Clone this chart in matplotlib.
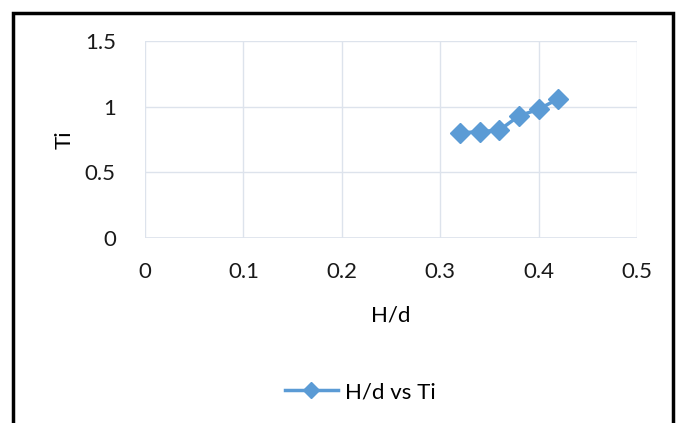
import matplotlib
matplotlib.use("Agg")
import matplotlib.pyplot as plt
from matplotlib.patches import Rectangle

# data
hd = [0.32, 0.34, 0.36, 0.38, 0.40, 0.42]
ti = [0.80, 0.81, 0.82, 0.93, 0.98, 1.06]
xticks = [0, 0.1, 0.2, 0.3, 0.4, 0.5]
yticks = [0, 0.5, 1, 1.5]

plt.rcParams["font.family"] = ["Lato", "DejaVu Sans"]
W, H = 688, 423
fig = plt.figure(figsize=(W / 100, H / 100), dpi=100)
ax = fig.add_axes([145 / W, 1 - 238 / H, (637 - 145) / W, (238 - 41) / H])

blue = "#5b9bd5"
grid = "#dde3ec"
ax.plot(hd, ti, color=blue, lw=2.5, marker="D", ms=10, mfc=blue, mec=blue,
        label="H/d vs Ti", zorder=3)

ax.set_xlim(0, 0.5)
ax.set_ylim(0, 1.5)
ax.set_xticks(xticks)
ax.set_xticklabels([f"{v:g}" for v in xticks])
ax.set_yticks(yticks)
ax.set_yticklabels([f"{v:g}" for v in yticks])
ax.grid(True, color=grid, lw=1)
ax.set_axisbelow(True)
for s in ax.spines.values():
    s.set_visible(False)
ax.axhline(0, color=grid, lw=1.2, zorder=1)
ax.tick_params(length=0, labelsize=16, colors="#1a1a1a")
ax.tick_params(axis="x", pad=17)
ax.tick_params(axis="y", pad=21)
ax.set_xlabel("H/d", fontsize=16, labelpad=17)
ax.set_ylabel("Ti", fontsize=16, labelpad=7)

fig.legend(loc="center", bbox_to_anchor=(360 / W, 1 - 392 / H), frameon=False,
           fontsize=16, handlelength=2.4, handletextpad=0.3, markerscale=0.8)

# black frame around the chart (no bottom edge visible)
fig.add_artist(Rectangle((13 / W, -0.05), (673 - 13) / W, 1 - 13 / H + 0.05,
                         transform=fig.transFigure, fill=False, ec="black", lw=2.5))

fig.savefig("out.png", dpi=100)
